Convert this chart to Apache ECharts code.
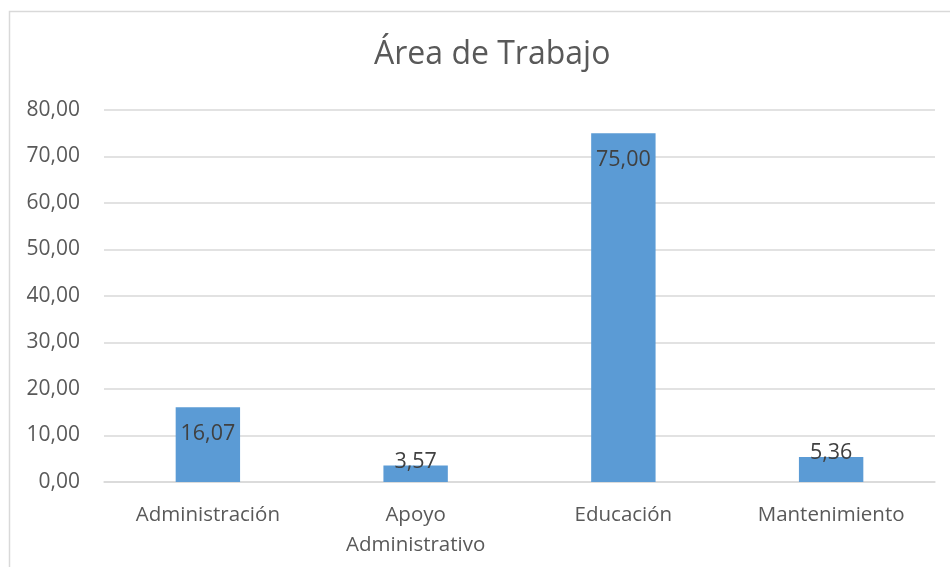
<!DOCTYPE html>
<html>
<head>
<meta charset="utf-8">
<script src="https://cdn.jsdelivr.net/npm/echarts@6/dist/echarts.min.js"></script>
<style>
  html, body { margin: 0; padding: 0; background: #fff; }
  #main { width: 950px; height: 567px; }
</style>
</head>
<body>
<div id="main"></div>
<script>
var categories = ['Administración', 'Apoyo\nAdministrativo', 'Educación', 'Mantenimiento'];
var values = [16.07, 3.57, 75.00, 5.36];

var chart = echarts.init(document.getElementById('main'));
var font = '"Open Sans", "Liberation Sans", sans-serif';

// small bars get the label pushed up over the top edge
var barData = values.map(function (v) {
    if (v < 10) {
        return { value: v, label: { position: 'top', distance: -7 } };
    }
    return v;
});

var option = {
    animation: false,
    textStyle: { fontFamily: font },
    graphic: [{
        type: 'rect',
        shape: { x: 9.5, y: 11.5, width: 1000, height: 1000 },
        style: { fill: 'none', stroke: '#d9d9d9', lineWidth: 1.5 },
        silent: true
    }],
    title: {
        text: 'Área de Trabajo',
        left: 369,
        top: 34,
        textStyle: { fontFamily: font, fontSize: 32, fontWeight: 'normal', color: '#595959' }
    },
    grid: { left: 104, right: 15, top: 110, bottom: 85 },
    xAxis: {
        type: 'category',
        data: categories,
        axisLine: { lineStyle: { color: '#d9d9d9', width: 1.5 } },
        axisTick: { show: false },
        axisLabel: { color: '#595959', fontSize: 20.5, margin: 18, lineHeight: 30, fontFamily: font }
    },
    yAxis: {
        type: 'value',
        min: 0,
        max: 80,
        interval: 10,
        axisLine: { show: false },
        axisTick: { show: false },
        splitLine: { lineStyle: { color: '#d9d9d9', width: 1.5 } },
        axisLabel: {
            color: '#595959', fontSize: 21, margin: 24, fontFamily: font,
            formatter: function (v) { return v.toFixed(2).replace('.', ','); }
        }
    },
    series: [{
        type: 'bar',
        data: barData,
        barWidth: '31%',
        itemStyle: { color: '#5b9bd5' },
        label: {
            show: true,
            position: 'insideTop',
            distance: 16,
            color: '#404040',
            fontSize: 21.5,
            fontFamily: font,
            formatter: function (p) { return p.value.toFixed(2).replace('.', ','); }
        }
    }]
};
chart.setOption(option);
</script>
</body>
</html>
